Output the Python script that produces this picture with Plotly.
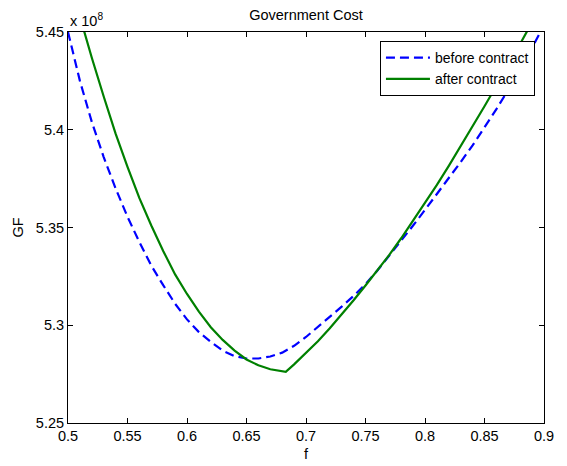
import plotly.graph_objects as go

# f values (x axis)
f_before = [0.50, 0.51, 0.52, 0.53, 0.54, 0.55, 0.56, 0.57, 0.58, 0.59,
            0.60, 0.61, 0.62, 0.63, 0.64, 0.65, 0.66, 0.67, 0.68, 0.69,
            0.70, 0.71, 0.72, 0.73, 0.74, 0.75, 0.76, 0.77, 0.78, 0.79,
            0.80, 0.81, 0.82, 0.83, 0.84, 0.85, 0.86, 0.87, 0.88, 0.89, 0.90]
# GF before contract, in units of 1e8
gf_before = [5.4500, 5.4250, 5.4040, 5.3860, 5.3700, 5.3555, 5.3425, 5.3305, 5.3205, 5.3110,
             5.3030, 5.2965, 5.2915, 5.2870, 5.2842, 5.2830, 5.2830, 5.2840, 5.2860, 5.2895,
             5.2940, 5.2990, 5.3040, 5.3095, 5.3150, 5.3210, 5.3280, 5.3355, 5.3430, 5.3510,
             5.3590, 5.3670, 5.3750, 5.3835, 5.3920, 5.4010, 5.4105, 5.4205, 5.4310, 5.4420, 5.4535]

f_after = [0.50, 0.51, 0.52, 0.53, 0.54, 0.55, 0.56, 0.57, 0.58, 0.59,
           0.60, 0.61, 0.62, 0.63, 0.64, 0.65, 0.66, 0.67, 0.68, 0.683, 0.69,
           0.70, 0.71, 0.72, 0.73, 0.74, 0.75, 0.76, 0.77, 0.78, 0.79,
           0.80, 0.81, 0.82, 0.83, 0.84, 0.85, 0.86, 0.87, 0.88, 0.89, 0.90]
# GF after contract, in units of 1e8
gf_after = [5.4790, 5.4575, 5.4368, 5.4170, 5.3980, 5.3810, 5.3650, 5.3510, 5.3380, 5.3260,
            5.3160, 5.3070, 5.2990, 5.2925, 5.2870, 5.2825, 5.2795, 5.2775, 5.2765, 5.2762, 5.2800,
            5.2857, 5.2918, 5.2985, 5.3055, 5.3128, 5.3203, 5.3280, 5.3360, 5.3445, 5.3535,
            5.3625, 5.3718, 5.3815, 5.3915, 5.4015, 5.4120, 5.4225, 5.4330, 5.4440, 5.4550, 5.4660]

x_ticks = [0.5, 0.55, 0.6, 0.65, 0.7, 0.75, 0.8, 0.85, 0.9]
y_ticks = [5.25, 5.3, 5.35, 5.4, 5.45]
y_tick_labels = ["5.25", "5.3", "5.35", "5.4", "5.45"]

FONT = "Liberation Sans, Arial, sans-serif"
FS = 14.5

fig = go.Figure()
fig.add_trace(go.Scatter(x=f_before, y=gf_before, mode="lines", name="before contract",
                         line=dict(color="#0000ff", width=2.2, dash="9px,5px")))
fig.add_trace(go.Scatter(x=f_after, y=gf_after, mode="lines", name="after contract",
                         line=dict(color="#008000", width=2.2)))

axis_common = dict(showline=True, linecolor="black", linewidth=1, mirror="ticks",
                   ticks="inside", ticklen=5, tickcolor="black", showgrid=False,
                   zeroline=False, automargin=False,
                   tickfont=dict(family=FONT, size=FS, color="black"))

fig.update_xaxes(range=[0.5, 0.9], tickvals=x_ticks, ticktext=[str(v) for v in x_ticks],
                 title=dict(text="f", font=dict(family=FONT, size=FS, color="black"), standoff=5),
                 **axis_common)
fig.update_yaxes(range=[5.25, 5.45], tickvals=y_ticks, ticktext=y_tick_labels,
                 title=dict(text="GF", font=dict(family=FONT, size=FS, color="black"), standoff=8),
                 **axis_common)

fig.add_annotation(text="x 10<sup>8</sup>", xref="paper", yref="paper", x=0, y=1,
                   xanchor="left", yanchor="bottom", showarrow=False, yshift=1,
                   font=dict(family=FONT, size=FS, color="black"))

fig.update_layout(
    width=567, height=466,
    margin=dict(l=68, r=23, t=32, b=43),
    paper_bgcolor="white", plot_bgcolor="white",
    title=dict(text="Government Cost", x=(68 + 238) / 567, xanchor="center",
               y=1 - 15 / 466, yanchor="middle",
               font=dict(family=FONT, size=FS, color="black")),
    legend=dict(x=0.981, y=0.977, xanchor="right", yanchor="top",
                bgcolor="white", bordercolor="black", borderwidth=1,
                font=dict(family=FONT, size=14, color="black"),
                tracegroupgap=0, itemwidth=44),
    showlegend=True,
)

fig.write_html("out.html", config={"displayModeBar": False},
               post_script="document.body.style.margin='0';document.body.style.padding='0';")
